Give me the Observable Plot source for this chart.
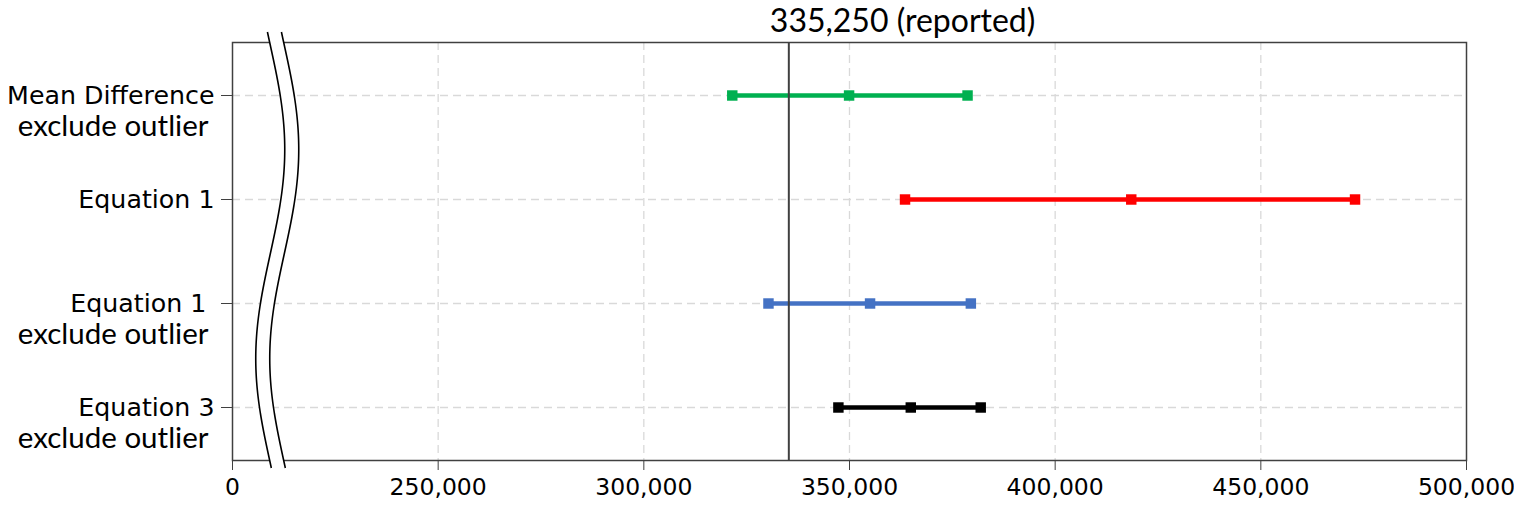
<!DOCTYPE html>
<html>
<head>
<meta charset="utf-8">
<script src="https://cdn.jsdelivr.net/npm/d3@7"></script>
<script src="https://cdn.jsdelivr.net/npm/@observablehq/plot@0.6"></script>
<style>
  html, body { margin: 0; padding: 0; background: #fff; }
  svg text { white-space: pre; }
</style>
</head>
<body>
<div id="chart"></div>
<script>
// ---- data ----
const rowLine1 = ["Mean Difference", "Equation 1", "Equation 1 ", "Equation 3"];
const rowLine2 = ["exclude outlier", "", "exclude outlier", "exclude outlier"];
const lowValues  = [321500, 363500, 330300, 347300];
const midValues  = [349900, 418500, 355000, 364900];
const highValues = [378700, 472900, 379500, 381900];
const seriesColors = ["#00b050", "#ff0000", "#4472c4", "#000000"];
const reportedValue = 335250;
const reportedLabel = "335,250 (reported)";
const xTickValues = [200000, 250000, 300000, 350000, 400000, 450000, 500000];
const xTickLabels = ["0", "250,000", "300,000", "350,000", "400,000", "450,000", "500,000"];
const xBreakValue = 211000;

// ---- derived tables ----
const rowKeys = rowLine1.map((a, i) => a + "|" + rowLine2[i]);
const rows = rowKeys.map((k, i) => ({
  key: k, line1: rowLine1[i], line2: rowLine2[i],
  low: lowValues[i], mid: midValues[i], high: highValues[i], color: seriesColors[i]
}));
const points = rows.flatMap(r => [r.low, r.mid, r.high].map(v => ({key: r.key, v, color: r.color})));
const gridX = xTickValues.slice(1, -1);

// axis break decoration (drawn relative to the frame and x scale)
function axisBreak(index, scales, values, dimensions) {
  const {height, marginTop, marginBottom} = dimensions;
  const top = marginTop, bottom = height - marginBottom, H = bottom - top;
  const cx = scales.x(xBreakValue);
  const ys = d3.range(top - 10, bottom + 8.01, 2);
  const wave = y => 14.5 * Math.sin(2 * Math.PI * (y - top - 3) / H);
  const left = ys.map(y => [cx - 7 + wave(y), y]);
  const right = ys.map(y => [cx + 7 + wave(y), y]);
  const g = d3.create("svg:g");
  const line = d3.line();
  g.append("path").attr("d", line(left.concat(right.slice().reverse())) + "Z")
    .attr("fill", "white").attr("stroke", "none");
  g.append("path").attr("d", line(left)).attr("fill", "none").attr("stroke", "black").attr("stroke-width", 1.6);
  g.append("path").attr("d", line(right)).attr("fill", "none").attr("stroke", "black").attr("stroke-width", 1.6);
  return g.node();
}

const plot = Plot.plot({
  width: 1514,
  height: 506,
  marginLeft: 232,
  marginRight: 48,
  marginTop: 42,
  marginBottom: 46,
  style: {background: "white", color: "black", fontFamily: "DejaVu Sans"},
  x: {domain: [200000, 500000]},
  y: {type: "point", domain: rowKeys, padding: 0.5},
  marks: [
    // gridlines
    Plot.ruleX(gridX, {stroke: "#d9d9d9", strokeWidth: 1.3, strokeDasharray: "8,5"}),
    Plot.ruleY(rowKeys, {stroke: "#d9d9d9", strokeWidth: 1.3, strokeDasharray: "8,5"}),
    // error bars
    Plot.link(rows, {x1: "low", x2: "high", y1: "key", y2: "key", stroke: "color", strokeWidth: 4.5}),
    Plot.dot(points, {x: "v", y: "key", fill: "color", symbol: "square", r: 5.9, stroke: null}),
    // reported reference line
    Plot.ruleX([reportedValue], {stroke: "#404040", strokeWidth: 2}),
    Plot.text([reportedValue], {x: d => d, text: () => reportedLabel, frameAnchor: "top",
      textAnchor: "start", lineAnchor: "bottom", dx: -19, dy: -11,
      fontFamily: "Lato", fontSize: 32, fill: "black"}),
    // frame
    Plot.frame({stroke: "#404040", strokeWidth: 1.5}),
    // axes
    Plot.axisX({ticks: xTickValues, tickFormat: d => xTickLabels[xTickValues.indexOf(d)],
      tickSize: 10, tickPadding: 8, fontSize: 23.5, stroke: "#404040", fill: "black", label: null}),
    Plot.axisY({tickSize: 11, tickFormat: () => "", stroke: "#404040", label: null}),
    Plot.text(rows, {y: "key", text: "line1", frameAnchor: "left", textAnchor: "end", dx: -18,
      fontFamily: "DejaVu Sans", fontSize: 25.3, fill: "black"}),
    Plot.text(rows, {y: "key", text: "line2", frameAnchor: "left", textAnchor: "end", dx: -24, dy: 31,
      fontFamily: "Lato", fontSize: 29.5, fill: "black"}),
    // axis break
    axisBreak
  ]
});
document.getElementById("chart").append(plot);
</script>
</body>
</html>
